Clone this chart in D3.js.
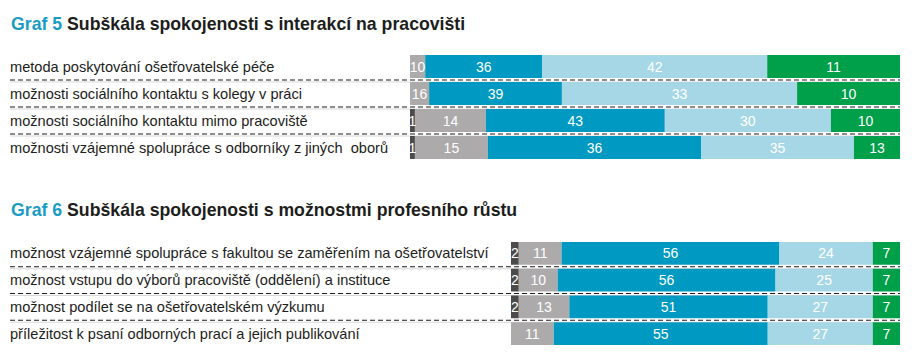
<!DOCTYPE html>
<html>
<head>
<meta charset="utf-8">
<script src="https://cdn.jsdelivr.net/npm/d3@7"></script>
<style>
  html, body { margin: 0; padding: 0; background: #ffffff; }
  svg { display: block; }
  .cat { white-space: pre; }
</style>
</head>
<body>
<svg id="chart" width="917" height="362"></svg>
<script>
// ---------- DATA ----------
// Graf 5 – categories
const g5Categories = [
  "metoda poskytování ošetřovatelské péče",
  "možnosti sociálního kontaktu s kolegy v práci",
  "možnosti sociálního kontaktu mimo pracoviště",
  "možnosti vzájemné spolupráce s odborníky z jiných  oborů"
];
// Graf 5 – segment shares as drawn in the picture (percent of bar length)
const g5Dark  = [0, 0, 1.0, 1.0];
const g5Gray  = [3.1, 3.9, 14.5, 14.9];
const g5Blue  = [23.9, 27.1, 36.5, 43.5];
const g5Light = [45.9, 48.0, 33.9, 31.2];
const g5Green = [27.1, 21.0, 14.1, 9.4];
// Graf 5 – printed value labels
const g5DarkLabel  = [null, null, 1, 1];
const g5GrayLabel  = [10, 16, 14, 15];
const g5BlueLabel  = [36, 39, 43, 36];
const g5LightLabel = [42, 33, 30, 35];
const g5GreenLabel = [11, 10, 10, 13];

// Graf 6 – categories
const g6Categories = [
  "možnost vzájemné spolupráce s fakultou se zaměřením na ošetřovatelství",
  "možnost vstupu do výborů pracoviště (oddělení) a instituce",
  "možnost podílet se na ošetřovatelském výzkumu",
  "příležitost k psaní odborných prací a jejich publikování"
];
// Graf 6 – values (%)
const g6Dark  = [2, 2, 2, 0];
const g6Gray  = [11, 10, 13, 11];
const g6Blue  = [56, 56, 51, 55];
const g6Light = [24, 25, 27, 27];
const g6Green = [7, 7, 7, 7];

const g5Title = ["Graf 5", "Subškála spokojenosti s interakcí na pracovišti"];
const g6Title = ["Graf 6", "Subškála spokojenosti s možnostmi profesního růstu"];

// ---------- STYLE ----------
const colors = ["#4b4b4b", "#acaaab", "#0099c1", "#a6d7e7", "#009f4a"];
const labelFont = "'Liberation Sans', Arial, sans-serif";

const svg = d3.select("#chart");

function buildRows(cats, series, labels) {
  return cats.map((c, i) => {
    let acc = 0;
    const segs = series.map((s, k) => {
      const v = s[i];
      const seg = { k, x0: acc, x1: acc + v, label: labels[k][i] };
      acc += v;
      return seg;
    });
    return { cat: c, segs };
  });
}

function drawChart(opts) {
  const { title, titleY, cats, series, labels, xRange, yRange, pad } = opts;
  const g = svg.append("g");

  // title
  const t = g.append("text")
    .attr("x", 11).attr("y", titleY)
    .attr("font-family", "'Liberation Sans', Arial, sans-serif")
    .attr("font-weight", "bold").attr("font-size", 17.7);
  t.append("tspan").attr("fill", "#1a9cc6").text(title[0] + " ");
  t.append("tspan").attr("fill", "#1d1d1b").text(title[1]);

  const x = d3.scaleLinear().domain([0, 100]).range(xRange);
  const y = d3.scaleBand().domain(cats).range(yRange).paddingInner(pad).paddingOuter(0);
  const rows = buildRows(cats, series, labels);

  // separators
  const sepY = cats.slice(0, -1).map(c => y(c) + y.bandwidth() + (y.step() - y.bandwidth()) / 2);
  g.selectAll(".sep").data(sepY).enter().append("line")
    .attr("x1", 10).attr("x2", xRange[1])
    .attr("y1", d => d).attr("y2", d => d)
    .attr("stroke", "#1d1d1b").attr("stroke-width", 1)
    .attr("stroke-dasharray", "5,3");
  g.selectAll(".sep2").data(sepY).enter().append("line")
    .attr("x1", 10).attr("x2", xRange[1])
    .attr("y1", d => d + 2).attr("y2", d => d + 2)
    .attr("stroke", "#d6d6d6").attr("stroke-width", 1);

  // category labels
  g.selectAll(".cat").data(cats).enter().append("text")
    .attr("class", "cat")
    .attr("x", 10)
    .attr("y", d => y(d) + y.bandwidth() / 2 + 5)
    .attr("font-family", labelFont).attr("font-size", 14.6)
    .attr("fill", "#1d1d1b")
    .text(d => d);

  // bars
  const row = g.selectAll(".row").data(rows).enter().append("g")
    .attr("transform", d => `translate(0,${y(d.cat)})`);
  row.selectAll("rect").data(d => d.segs.filter(s => s.x1 > s.x0)).enter().append("rect")
    .attr("x", s => x(s.x0))
    .attr("width", s => x(s.x1) - x(s.x0))
    .attr("y", 0).attr("height", y.bandwidth())
    .attr("fill", s => colors[s.k]);
  row.selectAll("text").data(d => d.segs.filter(s => s.label != null && s.x1 > s.x0)).enter().append("text")
    .attr("x", s => (x(s.x0) + x(s.x1)) / 2)
    .attr("y", y.bandwidth() / 2 + 5)
    .attr("text-anchor", "middle")
    .attr("font-family", labelFont).attr("font-size", 14)
    .attr("fill", "#ffffff")
    .text(s => s.label);
}

drawChart({
  title: g5Title, titleY: 30,
  cats: g5Categories,
  series: [g5Dark, g5Gray, g5Blue, g5Light, g5Green],
  labels: [g5DarkLabel, g5GrayLabel, g5BlueLabel, g5LightLabel, g5GreenLabel],
  xRange: [410, 900], yRange: [55, 159], pad: 4 / 27
});

drawChart({
  title: g6Title, titleY: 216,
  cats: g6Categories,
  series: [g6Dark, g6Gray, g6Blue, g6Light, g6Green],
  labels: [g6Dark.map(v => v || null), g6Gray, g6Blue, g6Light, g6Green],
  xRange: [511, 900], yRange: [242, 345], pad: 0.15
});
</script>
</body>
</html>
